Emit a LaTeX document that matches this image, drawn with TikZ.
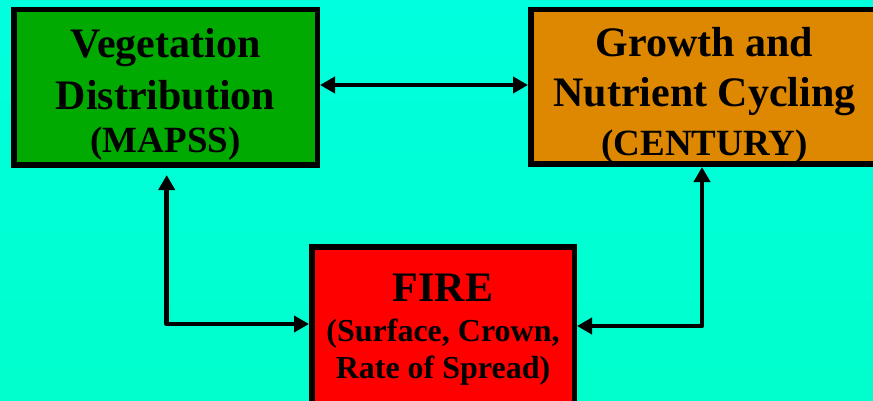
\documentclass[tikz,border=0pt]{standalone}
\usepackage{fontspec}
\setmainfont{Liberation Serif}
\usetikzlibrary{arrows.meta}
\definecolor{bgtop}{RGB}{0,255,222}
\definecolor{bgbottom}{RGB}{0,255,204}
\definecolor{vegfill}{RGB}{0,170,0}
\definecolor{growfill}{RGB}{221,136,0}
\definecolor{firefill}{RGB}{255,0,0}
\tikzset{
  modelbox/.style={draw=black, line width=5.5pt, rectangle, inner sep=0pt},
  boxtext/.style={align=center, inner sep=0pt, text=black},
  conn/.style={line width=4.5pt, line join=round,
    {Triangle[length=15pt,width=16pt]}-{Triangle[length=15pt,width=16pt]}},
}
\begin{document}
\begin{tikzpicture}[x=1pt,y=-1pt]
\clip (0,0) rectangle (873,401);
\shade[top color=bgtop, bottom color=bgbottom] (0,0) rectangle (873,401);

% model boxes
\node[modelbox, fill=vegfill, minimum width=303.5pt, minimum height=155.5pt] (veg) at (165.5,87.5) {};
\node[modelbox, fill=growfill, minimum width=347.5pt, minimum height=154.5pt] (growth) at (704.5,87) {};
\node[modelbox, fill=firefill, minimum width=262.5pt, minimum height=173.5pt] (fire) at (443,333.5) {};

% box labels
\node[boxtext, font=\bfseries\fontsize{42}{52}\selectfont, yshift=-7.3pt] (vegtext) at (veg.center)
  {Vegetation\\Distribution\\[-9pt]{\fontsize{37}{43}\selectfont (MAPSS)}};
\node[boxtext, font=\bfseries\fontsize{42}{50}\selectfont, yshift=-8.3pt] (growthtext) at (growth.center)
  {Growth and\\Nutrient Cycling\\[-1pt]{\fontsize{37}{43}\selectfont (CENTURY)}};
\node[boxtext, font=\bfseries\fontsize{42}{40}\selectfont, yshift=3.4pt] (firetext) at (fire.center)
  {FIRE\\{\fontsize{32}{37}\selectfont (Surface, Crown,}\\[-3pt]{\fontsize{32}{37}\selectfont Rate of Spread)}};

% two-way couplings
\draw[conn] (veg.east |- 0,85) -- (growth.west |- 0,85);
\draw[conn, shorten <=7pt] ([xshift=1.2pt]veg.south) |- (fire.west |- 0,324);
\draw[conn] (growth.south -| 702,0) |- (fire.east |- 0,326);
\end{tikzpicture}
\end{document}
